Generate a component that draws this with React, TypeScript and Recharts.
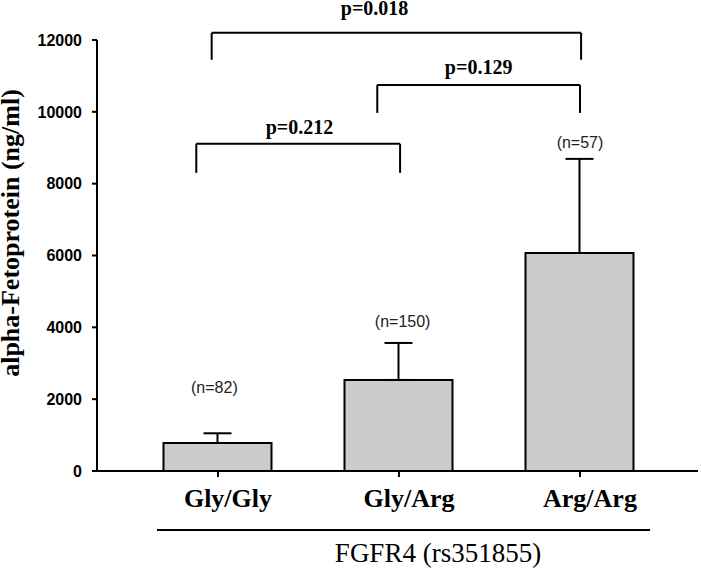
import React from "react";
import {
  ComposedChart,
  Bar,
  ErrorBar,
  XAxis,
  YAxis,
  ReferenceLine,
  ReferenceDot,
  Label,
} from "recharts";

const genotypes = ["Gly/Gly", "Gly/Arg", "Arg/Arg"];
const afpMean = [780, 2535, 6070];
const afpUpper = [1050, 3565, 8690];
const sampleSizes = ["(n=82)", "(n=150)", "(n=57)"];
const yTicks = [0, 2000, 4000, 6000, 8000, 10000, 12000];

// where the (n=..) notes sit: x in category units, y = text baseline in ng/ml
const nLabelX = [-0.02, 1.02, 2];
const nLabelY = [2170, 4010, 8990];

// significance brackets
const pValues = ["p=0.212", "p=0.129", "p=0.018"];
const bracketLeft = [-0.12, 0.88, -0.035];
const bracketRight = [1.006, 2.0, 2.006];
const bracketTop = [9110, 10750, 12200];
const bracketFoot = [8300, 9970, 11450];
const pLabelX = [0.45, 1.44, 0.865];
const pLabelY = [9380, 11050, 12700];

const data = genotypes.map((g, i) => ({
  pos: i,
  name: g,
  mean: afpMean[i],
  err: [0, afpUpper[i] - afpMean[i]],
}));

const SERIF = '"Times New Roman", "Liberation Serif", serif';
const SANS = 'Arial, "Liberation Sans", sans-serif';

function GenotypeTick(props: any) {
  const { x, y, payload } = props;
  return (
    <text
      x={x + 10}
      y={y}
      dy="0.71em"
      textAnchor="middle"
      fontFamily={SERIF}
      fontWeight="bold"
      fontSize={26}
      fill="#000"
    >
      {genotypes[payload.value]}
    </text>
  );
}

function YTitle() {
  return (
    <text
      transform="translate(19,233) rotate(-90)"
      textAnchor="middle"
      fontFamily={SERIF}
      fontWeight="bold"
      fontSize={26}
      fill="#000"
    >
      alpha-Fetoprotein (ng/ml)
    </text>
  );
}

function XTitle() {
  return (
    <g>
      <line x1={157} x2={650} y1={530} y2={530} stroke="#000" strokeWidth={2} />
      <text x={438} y={562} textAnchor="middle" fontFamily={SERIF} fontSize={27} fill="#000">
        FGFR4 (rs351855)
      </text>
    </g>
  );
}

const textDot = (text: string, font: any) => (p: any) =>
  (
    <text x={p.cx} y={p.cy} textAnchor="middle" {...font}>
      {text}
    </text>
  );

export default function App() {
  const brackets = pValues.flatMap((p, i) => [
    <ReferenceLine
      key={p + "-l"}
      segment={[
        { x: bracketLeft[i], y: bracketFoot[i] },
        { x: bracketLeft[i], y: bracketTop[i] },
      ]}
      stroke="#000"
      strokeWidth={2}
      ifOverflow="visible"
    />,
    <ReferenceLine
      key={p + "-t"}
      segment={[
        { x: bracketLeft[i], y: bracketTop[i] },
        { x: bracketRight[i], y: bracketTop[i] },
      ]}
      stroke="#000"
      strokeWidth={2}
      ifOverflow="visible"
    />,
    <ReferenceLine
      key={p + "-r"}
      segment={[
        { x: bracketRight[i], y: bracketTop[i] },
        { x: bracketRight[i], y: bracketFoot[i] },
      ]}
      stroke="#000"
      strokeWidth={2}
      ifOverflow="visible"
    />,
    <ReferenceDot
      key={p + "-txt"}
      x={pLabelX[i]}
      y={pLabelY[i]}
      r={1}
      ifOverflow="visible"
      shape={textDot(p, { fontFamily: SERIF, fontWeight: "bold", fontSize: 20, fill: "#000" })}
    />,
  ]);

  const nNotes = sampleSizes.map((n, i) => (
    <ReferenceDot
      key={n}
      x={nLabelX[i]}
      y={nLabelY[i]}
      r={1}
      ifOverflow="visible"
      shape={textDot(n, { fontFamily: SANS, fontSize: 16, fill: "#222" })}
    />
  ));

  return (
    <div style={{ position: "absolute", left: 0, top: 0, width: 701, height: 574, background: "#fff" }}>
      <ComposedChart
        width={701}
        height={574}
        data={data}
        margin={{ top: 40, right: 3, bottom: 43, left: 7 }}
      >
        <XAxis
          dataKey="pos"
          type="number"
          domain={[-0.6685, 2.652]}
          ticks={[0, 1, 2]}
          interval={0}
          height={60}
          tickSize={6}
          tickMargin={12}
          tick={<GenotypeTick />}
          axisLine={{ stroke: "#000", strokeWidth: 2 }}
          tickLine={{ stroke: "#000", strokeWidth: 2 }}
          label={<Label content={<XTitle />} />}
        />
        <YAxis
          domain={[0, 12000]}
          ticks={yTicks}
          interval={0}
          width={90}
          tickSize={5}
          tickMargin={10}
          tick={{ fontFamily: SANS, fontWeight: "bold", fontSize: 16, fill: "#000" }}
          axisLine={{ stroke: "#000", strokeWidth: 2 }}
          tickLine={{ stroke: "#000", strokeWidth: 2 }}
          label={<Label content={<YTitle />} />}
        />
        <Bar
          dataKey="mean"
          barSize={108}
          fill="#cccccc"
          stroke="#000"
          strokeWidth={2}
          isAnimationActive={false}
        >
          <ErrorBar dataKey="err" direction="y" width={14} stroke="#000" strokeWidth={2} />
        </Bar>
        {brackets}
        {nNotes}
      </ComposedChart>
    </div>
  );
}
